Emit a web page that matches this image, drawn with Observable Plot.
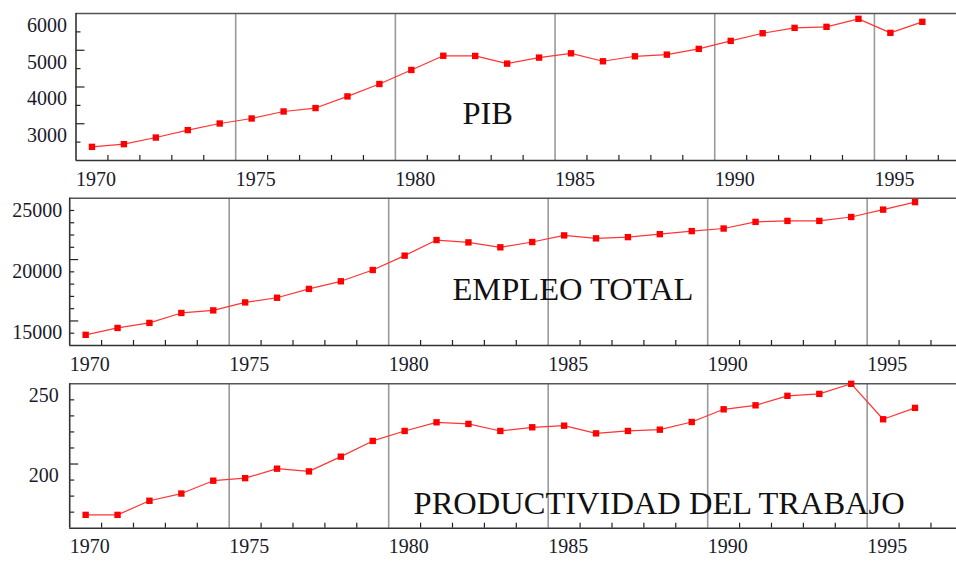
<!DOCTYPE html>
<html>
<head>
<meta charset="utf-8">
<script src="https://cdn.jsdelivr.net/npm/d3@7"></script>
<script src="https://cdn.jsdelivr.net/npm/@observablehq/plot@0.6"></script>
<style>
  html, body { margin: 0; padding: 0; background: #fff; }
  #wrap { position: relative; width: 956px; height: 561px; overflow: hidden; }
  .panel { position: absolute; left: 0; }
</style>
</head>
<body>
<div id="wrap">
  <div class="panel" id="p1" style="top:0px"></div>
  <div class="panel" id="p2" style="top:195px"></div>
  <div class="panel" id="p3" style="top:378px"></div>
</div>
<script>
// ---- data ----
const years = [1970, 1971, 1972, 1973, 1974, 1975, 1976, 1977, 1978, 1979,
               1980, 1981, 1982, 1983, 1984, 1985, 1986, 1987, 1988, 1989,
               1990, 1991, 1992, 1993, 1994, 1995, 1996];
const pib = [2371, 2445, 2625, 2827, 3007, 3143, 3334, 3427, 3744, 4082,
             4464, 4850, 4845, 4636, 4800, 4917, 4700, 4836, 4881, 5037,
             5255, 5463, 5609, 5637, 5855, 5473, 5773];
const empleo = [13870, 14430, 14840, 15650, 15860, 16510, 16890, 17610, 18230, 19150,
                20320, 21590, 21400, 21000, 21430, 21970, 21730, 21830, 22070, 22320,
                22530, 23070, 23150, 23150, 23470, 24070, 24680];
const productividad = [168.3, 168.3, 177.1, 181.6, 189.6, 191.2, 197.1, 195.4, 204.6, 214.4,
                       220.6, 226.0, 225.0, 220.6, 222.9, 223.9, 219.1, 220.6, 221.4, 226.2,
                       234.1, 236.6, 242.5, 243.7, 250.0, 227.9, 235.0];
const gridYears = [1975, 1980, 1985, 1990, 1995];
const xTickLabels = ["1970", "1975", "1980", "1985", "1990", "1995"];
const yearTicks = [1971, 1972, 1973, 1974, 1976, 1977, 1978, 1979, 1981, 1982, 1983, 1984,
                   1986, 1987, 1988, 1989, 1991, 1992, 1993, 1994, 1996, 1997];
const pibLabels = [3000, 4000, 5000, 6000];
const pibMajor = [3000, 4000, 5000];
const pibMinor = [2500, 3500, 4500, 5500];
const empLabels = [15000, 20000, 25000];
const empMajor = [15000, 20000];
const empMinor = [14000, 16000, 17000, 18000, 19000, 21000, 22000, 23000, 24000];
const prodLabels = [200, 250];
const prodMajor = [200];
const prodMinor = [170, 180, 190, 210, 220, 230, 240];
const titles = ["PIB", "EMPLEO TOTAL", "PRODUCTIVIDAD DEL TRABAJO"];

const SERIF = "'Liberation Serif', 'DejaVu Serif', serif";

function panel(cfg) {
  const rows = years.map((yr, i) => ({year: yr, value: cfg.values[i]}));
  const W = 956;
  const plotW = W - cfg.marginLeft;
  const plotH = cfg.height - cfg.marginTop - cfg.marginBottom;
  return Plot.plot({
    width: W,
    height: cfg.height,
    marginTop: cfg.marginTop,
    marginBottom: cfg.marginBottom,
    marginLeft: cfg.marginLeft,
    marginRight: 0,
    x: {domain: cfg.xDomain, axis: null},
    y: {domain: cfg.yDomain, axis: null},
    style: {background: "transparent", overflow: "visible", fontFamily: SERIF},
    marks: [
      Plot.ruleX(gridYears, {x: d => d, stroke: "#9a9a9a", strokeWidth: 1.6}),
      Plot.ruleX(yearTicks, {x: d => d, insetTop: plotH - 5, stroke: "#222", strokeWidth: 1.2}),
      Plot.ruleY(cfg.major, {y: d => d, insetRight: plotW - 9, stroke: "#222", strokeWidth: 1.2}),
      Plot.ruleY(cfg.minor, {y: d => d, insetRight: plotW - 5, stroke: "#222", strokeWidth: 1.2}),
      Plot.ruleY([cfg.yDomain[1]], {stroke: "#555", strokeWidth: 1.6}),
      Plot.ruleY([cfg.yDomain[0]], {stroke: "#333", strokeWidth: 1.6}),
      Plot.ruleX([cfg.xDomain[0]], {stroke: "#333", strokeWidth: 1.6}),
      Plot.line(rows, {x: d => d.year + 0.5, y: "value", stroke: "#ff3535", strokeWidth: 1.2}),
      Plot.dot(rows, {x: d => d.year + 0.5, y: "value", symbol: "square", r: 3.6, fill: "#ff0000"}),
      Plot.text(xTickLabels, {x: d => +d, text: d => d, frameAnchor: "bottom", dy: 25,
        textAnchor: "start", fontSize: 20, fill: "#1a1a2a", fontFamily: SERIF}),
      Plot.text(cfg.labels, {y: d => d, text: d => String(d), frameAnchor: "left", dx: cfg.labelDx, dy: 12,
        textAnchor: "end", fontSize: 20, fill: "#1a1a2a", fontFamily: SERIF}),
      Plot.text([cfg.title], {x: cfg.titleX, y: cfg.titleY, text: d => d, textAnchor: "start",
        fontSize: 32.5, fill: "#111", fontFamily: SERIF})
    ]
  });
}

document.getElementById("p1").appendChild(panel({
  values: pib, height: 195, marginTop: 13, marginBottom: 35, marginLeft: 75.5,
  xDomain: [1970, 1997.57], yDomain: [2000, 6000],
  labels: pibLabels, major: pibMajor, minor: pibMinor, labelDx: -9,
  title: titles[0], titleX: 1982.1, titleY: 3271
}));
document.getElementById("p2").appendChild(panel({
  values: empleo, height: 183, marginTop: 2.7, marginBottom: 33, marginLeft: 69.2,
  xDomain: [1970, 1997.8], yDomain: [13000, 25000],
  labels: empLabels, major: empMajor, minor: empMinor, labelDx: -7.5,
  title: titles[1], titleX: 1982.0, titleY: 17556
}));
document.getElementById("p3").appendChild(panel({
  values: productividad, height: 183, marginTop: 5.3, marginBottom: 33.3, marginLeft: 69.2,
  xDomain: [1970, 1997.8], yDomain: [160, 250],
  labels: prodLabels, major: prodMajor, minor: prodMinor, labelDx: -11,
  title: titles[2], titleX: 1980.78, titleY: 175.2
}));
</script>
</body>
</html>
